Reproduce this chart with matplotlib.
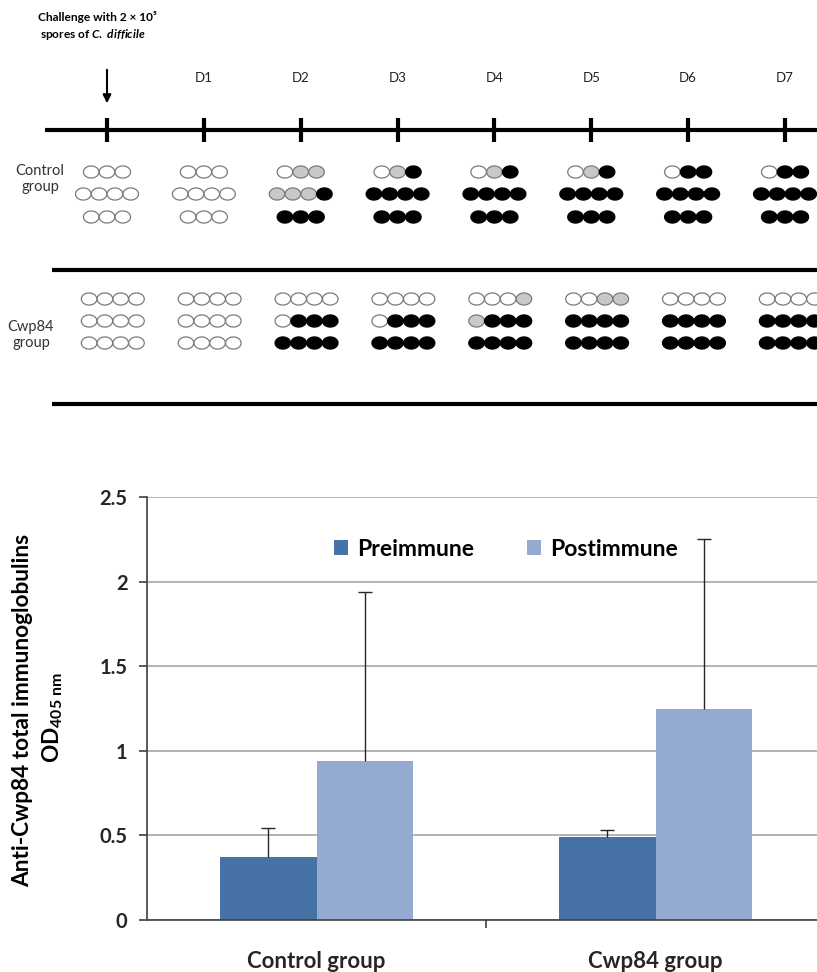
import numpy as np
import matplotlib.pyplot as plt
from matplotlib.path import Path

plt.rcParams['font.family'] = ['Lato', 'DejaVu Sans']
plt.rcParams['mathtext.fontset'] = 'custom'
plt.rcParams['mathtext.rm'] = 'Lato:bold'
plt.rcParams['mathtext.it'] = 'Lato:bold:italic'
plt.rcParams['mathtext.bf'] = 'Lato:bold'

# --- survival / symptom time course ---
day_labels = ['', 'D1', 'D2', 'D3', 'D4', 'D5', 'D6', 'D7']
# o = healthy, g = diarrhoea, x = dead
control_status = [
    ['ooo', 'oooo', 'ooo'],
    ['ooo', 'oooo', 'ooo'],
    ['ogg', 'gggx', 'xxx'],
    ['ogx', 'xxxx', 'xxx'],
    ['ogx', 'xxxx', 'xxx'],
    ['ogx', 'xxxx', 'xxx'],
    ['oxx', 'xxxx', 'xxx'],
    ['oxx', 'xxxx', 'xxx'],
]
cwp84_status = [
    ['oooo', 'oooo', 'oooo'],
    ['oooo', 'oooo', 'oooo'],
    ['oooo', 'oxxx', 'xxxx'],
    ['oooo', 'oxxx', 'xxxx'],
    ['ooog', 'gxxx', 'xxxx'],
    ['oogg', 'xxxx', 'xxxx'],
    ['oooo', 'xxxx', 'xxxx'],
    ['oooo', 'xxxx', 'xxxx'],
]

# --- ELISA ---
groups = ['Control group', 'Cwp84 group']
pre = [0.37, 0.49]
pre_sd = [0.175, 0.04]
post = [0.94, 1.25]
post_sd = [1.0, 1.0]

W, H = 817, 972
fig = plt.figure(figsize=(W / 100, H / 100), dpi=100)


def fx(px):
    return px / W


def fy(py):
    return 1 - py / H


# top panel: x in days, y in pixels from top
top_h = 420
ax0 = fig.add_axes([0, fy(top_h), 1, top_h / H])
step = 96.86
x0 = 107
ax0.set_xlim(-x0 / step, (W - x0) / step)
ax0.set_ylim(top_h, 0)
ax0.axis('off')

ax0.axhline(130, xmin=fx(45), xmax=1, color='black', lw=3, solid_capstyle='butt')
ax0.vlines(np.arange(len(day_labels)), 118, 142, color='black', lw=3)
ax0.axhline(270, xmin=fx(52), xmax=1, color='black', lw=3, solid_capstyle='butt')
ax0.axhline(404, xmin=fx(52), xmax=1, color='black', lw=3, solid_capstyle='butt')

for i, lab in enumerate(day_labels):
    if lab:
        ax0.text(i, 78, lab, ha='center', va='center', fontsize=9.5, color='#222222')

ax0.annotate('', xy=(0, 106), xytext=(0, 67),
             arrowprops=dict(arrowstyle='-|>', color='black', lw=1.5, mutation_scale=12))

t = np.linspace(0, 2 * np.pi, 60)
ell = Path(np.column_stack([np.cos(t), 0.78 * np.sin(t)]))
face = {'o': 'white', 'g': '#c8c8c8', 'x': 'black'}
edge = {'o': '#7a7a7a', 'g': '#7a7a7a', 'x': 'black'}
dx = 15.8 / step


def draw_group(status, rows_y, shift):
    for d, rows in enumerate(status):
        for r, s in enumerate(rows):
            n = len(s)
            xs = d + shift + (np.arange(n) - (n - 1) / 2) * dx
            ax0.scatter(xs, [rows_y[r]] * n, s=125, marker=ell,
                        c=[face[c] for c in s], edgecolors=[edge[c] for c in s],
                        linewidths=0.9, zorder=3)


draw_group(control_status, [172, 194, 217], 0.0)
draw_group(cwp84_status, [299, 321, 343], 0.06)

fig.text(fx(38), fy(17), 'Challenge with 2 × 10⁵', fontsize=8.6, fontweight='bold',
         va='center', ha='left')
fig.text(fx(40), fy(35), r'spores of $C.\ difficile$', fontsize=8.6, fontweight='bold',
         va='center', ha='left')
fig.text(fx(40), fy(179), 'Control\ngroup', fontsize=10.5, color='#333333',
         ha='center', va='center', linespacing=1.1)
fig.text(fx(31), fy(335), 'Cwp84\ngroup', fontsize=10.5, color='#333333',
         ha='center', va='center', linespacing=1.1)

# bar chart
ax = fig.add_axes([fx(147), fy(920), (825 - 147) / W, (920 - 497) / H])
x = np.arange(len(groups))
w = 0.286
ax.bar(x - w / 2, pre, w, color='#4672a6', label='Preimmune', zorder=2)
ax.bar(x + w / 2, post, w, color='#94aad1', label='Postimmune', zorder=2)
for xs, vals, sd in [(x - w / 2, pre, pre_sd), (x + w / 2, post, post_sd)]:
    eb = ax.errorbar(xs, vals, yerr=[np.zeros(len(vals)), sd], fmt='none',
                     ecolor='#262626', elinewidth=1, capsize=5, capthick=1, zorder=3)
    eb[1][0].set_visible(False)  # no cap on the lower side

ax.set_xlim(-0.5, 1.5)
ax.set_ylim(0, 2.5)
ax.set_yticks([0, 0.5, 1, 1.5, 2, 2.5])
ax.set_yticklabels(['0', '0.5', '1', '1.5', '2', '2.5'], fontweight='bold')
ax.yaxis.grid(True, color='#a6a6a6', lw=1.2)
ax.set_axisbelow(True)
for sp in ['top', 'right']:
    ax.spines[sp].set_visible(False)
for sp in ['left', 'bottom']:
    ax.spines[sp].set_color('#404040')
    ax.spines[sp].set_linewidth(1.2)
ax.tick_params(axis='y', length=6, width=1.2, color='#404040', labelsize=14.5,
               labelcolor='#262626', pad=8)
ax.set_xticks(x)
ax.set_xticklabels(groups, fontweight='bold', fontsize=16, color='#262626')
ax.set_xticks([0.5], minor=True)
ax.tick_params(axis='x', which='major', length=0, pad=22)
ax.tick_params(axis='x', which='minor', length=6, width=1.2, color='#404040')

ax.legend(loc='center', bbox_to_anchor=((506 - 147) / 678, 1 - (549 - 497) / 423),
          ncol=2, frameon=False, handlelength=0.6, handleheight=0.6,
          handletextpad=0.4, columnspacing=2.3,
          prop={'weight': 'bold', 'size': 16.5})

fig.text(fx(23), fy(710), 'Anti-Cwp84 total immunoglobulins', rotation=90,
         fontsize=16.3, fontweight='bold', ha='center', va='center')
fig.text(fx(53), fy(718), r'OD$_{405\ \mathrm{nm}}$', rotation=90,
         fontsize=16.3, fontweight='bold', ha='center', va='center')

fig.savefig('out.png', dpi=100)
